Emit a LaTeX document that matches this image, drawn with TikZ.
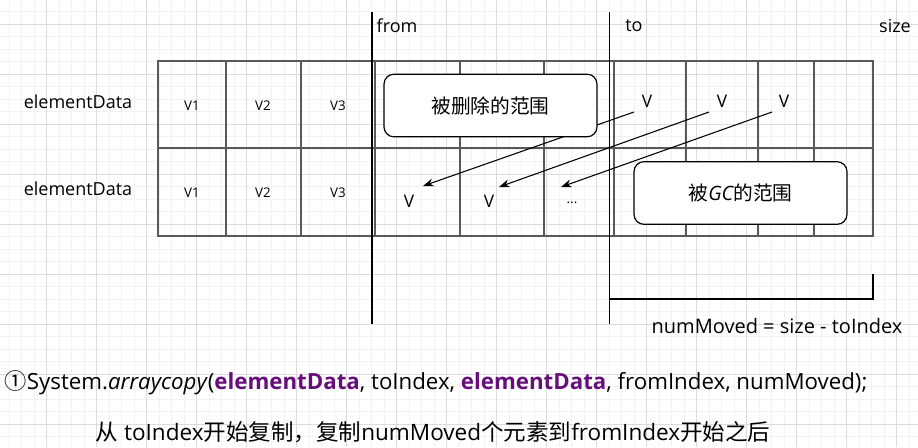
\documentclass[tikz,border=0pt]{standalone}
\usepackage{fontspec}
\setmainfont{Open Sans}
\newfontfamily\cjk{Noto Sans CJK SC}
\usetikzlibrary{arrows.meta}
\definecolor{kw}{HTML}{660E7A}
\definecolor{gridmaj}{HTML}{DCDCDC}
\definecolor{gridmin}{HTML}{F2F2F2}

\begin{document}
\begin{tikzpicture}[x=0.75pt,y=-0.75pt]
\tikzstyle{every node}=[font=\fontsize{13.5}{16}\selectfont]
\tikzstyle{cell}=[font=\fontsize{10}{12}\selectfont]
\tikzstyle{val}=[font=\fontsize{13}{15}\selectfont,inner sep=1pt]
\tikzstyle{rangebox}=[draw,fill=white,line width=0.9pt,rounded corners=7.5pt,
  minimum width=159.75pt,minimum height=47pt,font=\cjk\fontsize{14.8}{17}\selectfont]
\tikzstyle{tbl}=[black!65,line width=0.9pt]
\tikzstyle{idx}=[black,line width=1pt]
\tikzstyle{arr}=[black,line width=0.8pt,-{Stealth[length=8pt,width=6pt]}]
\useasboundingbox (0,0) rectangle (918,447);
\fill[white] (0,0) rectangle (918,447);
% background grid
\foreach \x in {9,21.5,...,918} \draw[gridmin,line width=0.75pt] (\x,0)--(\x,447);
\foreach \y in {11.8,24.3,...,447} \draw[gridmin,line width=0.75pt] (0,\y)--(918,\y);
\foreach \x in {46.5,96.5,...,918} \draw[gridmaj,line width=0.75pt] (\x,0)--(\x,447);
\foreach \y in {24.3,74.3,...,447} \draw[gridmaj,line width=0.75pt] (0,\y)--(918,\y);

% the two arrays
\draw[tbl] (158,61) rectangle (873,236);
\draw[tbl] (158,148)--(873,148);
\foreach \x in {226,301,375,460,544,614,686,758,814} \draw[tbl] (\x,61)--(\x,236);

\node (lab1) at (78,102) {elementData};
\node (lab2) at (78,189) {elementData};
\foreach \c/\x in {1/192,2/263,3/338} {
  \node[cell] (a\c) at (\x,106) {V\c};
  \node[cell] (b\c) at (\x,193) {V\c};
}

\node[val] (t1) at (647,101) {V};
\node[val] (t2) at (722,101) {V};
\node[val] (t3) at (784,101) {V};
\node[val] (s1) at (409,201) {V};
\node[val] (s2) at (489,201) {V};
\node[cell] (s3) at (572,203) {...};

\draw[arr] ([shift={(-13,11)}]t1.center) -- ([shift={(14,-15)}]s1.center);
\draw[arr] ([shift={(-13,11)}]t2.center) -- ([shift={(10,-14)}]s2.center);
\draw[arr] ([shift={(-12,11)}]t3.center) -- ([shift={(-11,-16)}]s3.center);

\node[rangebox] (del) at (490.5,105.5) {被删除的范围};
\node[rangebox] (gc) at (740.5,193) {被{\normalfont\itshape GC}的范围};

% from / to markers
\coordinate (f0) at (372,12);
\coordinate (f1) at (372,324);
\coordinate (g0) at (609.5,12);
\coordinate (g1) at (609.5,324);
\draw[idx] (f0)--(f1);
\draw[idx] (g0)--(g1);
\node[anchor=west] (from) at (372,26) {from};
\node (to) at (634,26) {to};
\node (size) at (895,26) {size};

\coordinate (bl) at (609.5,299);
\coordinate (br) at (873,299);
\coordinate (bt) at (873,274);
\draw[idx] (bl)--(br)--(bt);
\node[font=\fontsize{15}{18}\selectfont] (nm) at (777,326) {numMoved = size - toIndex};

\node[anchor=west,font=\fontsize{16.7}{19}\selectfont] (code) at (0,383)
  {{\cjk ①}System.\textit{arraycopy}(\textbf{\color{kw}elementData}, toIndex, \textbf{\color{kw}elementData}, fromIndex, numMoved);};
\node[font=\fontsize{16.9}{19}\selectfont] (note) at (433,432)
  {{\cjk 从} toIndex{\cjk 开始复制，复制}numMoved{\cjk 个元素到}fromIndex{\cjk 开始之后}};

\end{tikzpicture}
\end{document}
